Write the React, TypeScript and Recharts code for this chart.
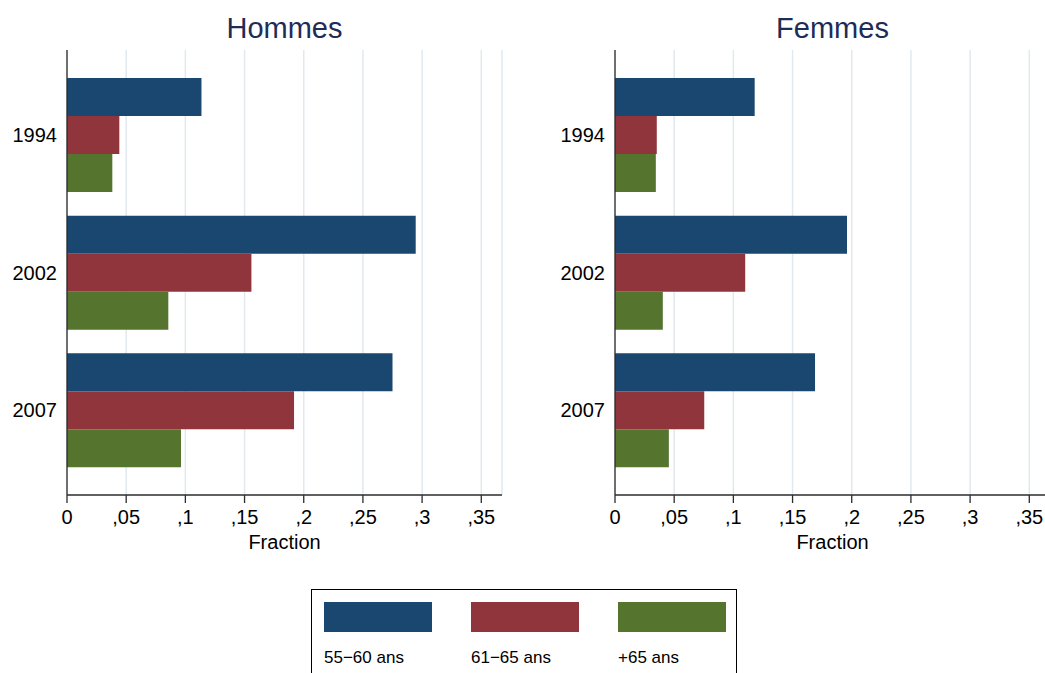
import { BarChart, Bar, XAxis, YAxis, CartesianGrid } from "recharts";

const years = ["1994", "2002", "2007"];
const ageGroups = ["55−60 ans", "61−65 ans", "+65 ans"];
const COLORS = ["#1a476f", "#90353b", "#55752f"];

const hommes55 = [0.1136, 0.2946, 0.275];
const hommes61 = [0.0442, 0.1558, 0.1918];
const hommes65 = [0.0383, 0.0856, 0.0963];

const femmes55 = [0.118, 0.196, 0.169];
const femmes61 = [0.0353, 0.11, 0.0754];
const femmes65 = [0.0345, 0.0404, 0.0455];

const xTicks = [0, 0.05, 0.1, 0.15, 0.2, 0.25, 0.3, 0.35];

const buildRows = (a: number[], b: number[], c: number[]) =>
  years.map((year, i) => ({ year, g0: a[i], g1: b[i], g2: c[i] }));

const hommesData = buildRows(hommes55, hommes61, hommes65);
const femmesData = buildRows(femmes55, femmes61, femmes65);

const fmtTick = (v: number) => (v === 0 ? "0" : String(v).replace("0.", ","));

const AXIS_COLOR = "#2b2b2b";

const Panel = ({ title, data, left }: { title: string; data: any[]; left: number }) => {
  return (
    <div style={{ position: "absolute", left, top: 0, width: 520, height: 560 }}>
      <div
        style={{
          position: "absolute",
          left: 67,
          top: 14,
          width: 435,
          textAlign: "center",
          fontSize: 29,
          lineHeight: "29px",
          color: "#1e2c56",
        }}
      >
        {title}
      </div>
      <BarChart
        width={520}
        height={560}
        data={data}
        layout="vertical"
        margin={{ top: 50, right: 18, bottom: 10, left: 0 }}
        barSize={38}
        barGap={0}
      >
        <CartesianGrid horizontal={false} stroke="#e1e9ee" strokeWidth={1.5} />
        <XAxis
          type="number"
          domain={[0, 0.3675]}
          ticks={xTicks}
          tickFormatter={fmtTick}
          height={55}
          tickSize={8}
          tickMargin={7}
          tick={{ fill: "#000", fontSize: 20 }}
          stroke={AXIS_COLOR}
          strokeWidth={1.3}
          label={{ value: "Fraction", position: "insideBottom", offset: 1, fill: "#000", fontSize: 20 }}
        />
        <YAxis
          type="category"
          dataKey="year"
          width={67}
          tickSize={0}
          tickMargin={10}
          tickLine={false}
          padding={{ top: 16, bottom: 16 }}
          tick={{ fill: "#000", fontSize: 20 }}
          stroke={AXIS_COLOR}
          strokeWidth={1.3}
        />
        {["g0", "g1", "g2"].map((key, i) => (
          <Bar key={key} dataKey={key} name={ageGroups[i]} fill={COLORS[i]} isAnimationActive={false} />
        ))}
      </BarChart>
    </div>
  );
};

const LegendBox = () => {
  const swatchLefts = [12, 159, 306];
  return (
    <div
      style={{
        position: "absolute",
        left: 311,
        top: 589,
        width: 426,
        height: 100,
        border: "1.5px solid #000",
        boxSizing: "border-box",
      }}
    >
      {ageGroups.map((name, i) => (
        <div key={name}>
          <div
            style={{
              position: "absolute",
              left: swatchLefts[i],
              top: 12,
              width: 108,
              height: 30,
              background: COLORS[i],
            }}
          />
          <div
            style={{
              position: "absolute",
              left: swatchLefts[i],
              top: 59,
              fontSize: 17,
              lineHeight: "17px",
              color: "#000",
              whiteSpace: "nowrap",
            }}
          >
            {name}
          </div>
        </div>
      ))}
    </div>
  );
};

export default function App() {
  return (
    <div
      style={{
        position: "absolute",
        left: 0,
        top: 0,
        width: 1045,
        height: 673,
        overflow: "hidden",
        background: "#fff",
        fontFamily: '"Liberation Sans", Arial, sans-serif',
      }}
    >
      <Panel title="Hommes" data={hommesData} left={0} />
      <Panel title="Femmes" data={femmesData} left={548} />
      <LegendBox />
    </div>
  );
}
